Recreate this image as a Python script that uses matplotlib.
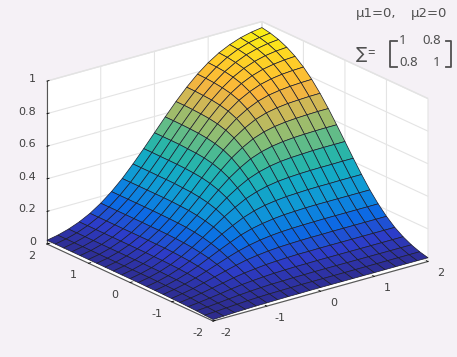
import numpy as np
import matplotlib
matplotlib.use('Agg')
import matplotlib.pyplot as plt
from matplotlib.colors import LinearSegmentedColormap
from matplotlib.lines import Line2D
from mpl_toolkits.mplot3d import proj3d

# grid of the surface, both axes
x_vals = [-2.0, -1.8, -1.6, -1.4, -1.2, -1.0, -0.8, -0.6, -0.4, -0.2, 0.0,
          0.2, 0.4, 0.6, 0.8, 1.0, 1.2, 1.4, 1.6, 1.8, 2.0]

# height estimates, row i holds y = x[i] .. 2 (surface is mirrored about x=y)
z_upper = [
    [.009, .012, .015, .017, .019, .020, .021, .022, .022, .023, .023] + [.023] * 10,
    [.016, .020, .024, .028, .031, .033, .034, .035, .036, .036, .036] + [.036] * 9,
    [.026, .033, .039, .044, .048, .051, .052, .054, .054, .055, .055] + [.055] * 8,
    [.042, .052, .061, .067, .072, .076, .078, .080, .080, .081, .081] + [.081] * 7,
    [.065, .079, .090, .098, .105, .109, .112, .114, .114, .115, .115] + [.115] * 6,
    [.097, .114, .129, .139, .147, .152, .155, .157, .158, .158, .159] + [.159] * 5,
    [.138, .160, .177, .190, .199, .205, .208, .210, .211, .212, .212] + [.212] * 4,
    [.189, .216, .236, .250, .260, .267, .270, .273, .274, .274, .274] + [.274] * 3,
    [.250, .281, .304, .320, .330, .337, .340, .343, .344, .344, .345] + [.345] * 2,
    [.320, .355, .379, .396, .407, .413, .417, .419, .420, .420, .421, .421],
    [.398, .434, .459, .476, .487, .493, .496, .499, .500, .500, .500],
    [.479, .516, .541, .557, .567, .573, .576, .578, .579, .579],
    [.561, .597, .621, .636, .645, .650, .653, .655, .655],
    [.640, .674, .696, .709, .717, .721, .724, .725],
    [.714, .744, .763, .774, .781, .785, .787],
    [.779, .805, .821, .831, .836, .839],
    [.835, .856, .869, .877, .881],
    [.881, .898, .908, .913],
    [.917, .930, .937],
    [.944, .953],
    [.963],
]

xy_ticks = [-2, -1, 0, 1, 2]
xy_ticklabels = ['-2', '-1', '0', '1', '2']
z_ticks = [0, 0.2, 0.4, 0.6, 0.8, 1]
z_ticklabels = ['0', '0.2', '0.4', '0.6', '0.8', '1']

BG = '#f5f1f6'
TEXT = '#404040'
NOTE = '#505050'
W, H = 457, 357

colors = ['#2e2a85', '#2d3cc8', '#0a6ee6', '#0f96d8', '#14abc4', '#30b8a0',
          '#82be78', '#c8b95a', '#fab43c', '#ffcd28', '#f8f014']
parula = LinearSegmentedColormap.from_list('parula_like', colors)

n = len(x_vals)
Z = np.zeros((n, n))
for i, row in enumerate(z_upper):
    Z[i, i:] = row
    Z[i:, i] = row
X, Y = np.meshgrid(x_vals, x_vals, indexing='ij')

fig = plt.figure(figsize=(W / 100, H / 100), dpi=100, facecolor=BG)
ax = fig.add_axes([0, 0, 1, 1], projection='3d', facecolor='none')
ax.set_proj_type('ortho')
ax.view_init(elev=21, azim=-127.7)
ax.set_xlim(-2, 2, view_margin=0)
ax.set_ylim(-2, 2, view_margin=0)
ax.set_zlim(0, 1, view_margin=0)
ax.set_box_aspect((271.6, 271.6, 174.5))

ax.plot_surface(X, Y, Z, rstride=1, cstride=1, cmap=parula, vmin=0, vmax=0.963,
                shade=False, edgecolor='#1c1c2c', linewidth=0.5, antialiased=True)

# tick marks come from the axes, their labels are placed further down
ax.set_xticks(xy_ticks)
ax.set_yticks(xy_ticks)
ax.set_zticks(z_ticks)
ax.set_xticklabels([''] * len(xy_ticks))
ax.set_yticklabels([''] * len(xy_ticks))
ax.set_zticklabels([''] * len(z_ticks))

for axis in (ax.xaxis, ax.yaxis, ax.zaxis):
    axis.set_pane_color((1, 1, 1, 1))
    axis.pane.set_edgecolor('#e2e2e2')
    axis.line.set_color('#555555')
    axis.line.set_linewidth(0.8)
    axis._axinfo['grid']['color'] = '#e4e4e4'
    axis._axinfo['grid']['linewidth'] = 0.8
    axis._axinfo['tick']['color'] = '#555555'
    axis._axinfo['tick']['linewidth'] = {True: 0.6, False: 0.6}
    axis._axinfo['tick']['inward_factor'] = 0.0
    axis._axinfo['tick']['outward_factor'] = 0.12


def to_frac(x, y, z):
    # axes fraction of a 3d point
    u, v, _ = proj3d.proj_transform(x, y, z, ax.get_proj())
    return ax.transAxes.inverted().transform(ax.transData.transform((u, v)))


# place the box so its corners land where they are in the reference
f_left = to_frac(-2, 2, 0)
f_right = to_frac(2, -2, 0)
L = (428 - 47) / (f_right[0] - f_left[0])
left = 47 - L * f_left[0]
bottom = (H - 244) - L * f_left[1]
ax.set_position([left / W, bottom / H, L / W, L / H])


def to_px(x, y, z):
    f = to_frac(x, y, z)
    return left + L * f[0], H - (bottom + L * f[1])


def put(px, py, s, size=9.5, family=('Noto Sans', 'DejaVu Sans'), ha='center', color=NOTE):
    fig.text(px / W, 1 - py / H, s, ha=ha, va='center', fontsize=size,
             color=color, family=list(family))


AXIS_FONT = ('DejaVu Sans',)
for t, s in zip(xy_ticks, xy_ticklabels):
    px, py = to_px(t, -2, 0)
    put(px + 13, py + 12, s, size=8, family=AXIS_FONT, color=TEXT)
    px, py = to_px(-2, t, 0)
    put(px - 15, py + 12, s, size=8, family=AXIS_FONT, color=TEXT)
for t, s in zip(z_ticks, z_ticklabels):
    px, py = to_px(-2, 2, t)
    put(px - 11, py - 2, s, size=8, family=AXIS_FONT, ha='right', color=TEXT)

put(376, 14, 'μ1=0,', family=AXIS_FONT)
put(429, 14, 'μ2=0', family=AXIS_FONT)
put(361, 55, '∑', size=12)
put(371, 54, '=')
put(403, 40, '1')
put(432, 40, '0.8')
put(409, 63, '0.8')
put(437, 63, '1')


def bracket(x0, tip):
    xs = [x0 + tip, x0, x0, x0 + tip]
    ys = [41, 41, 67, 67]
    fig.add_artist(Line2D([v / W for v in xs], [1 - v / H for v in ys], color=NOTE, lw=1.3))


bracket(390, 7)
bracket(451, -5)

fig.savefig('out.png', dpi=100, facecolor=BG)
